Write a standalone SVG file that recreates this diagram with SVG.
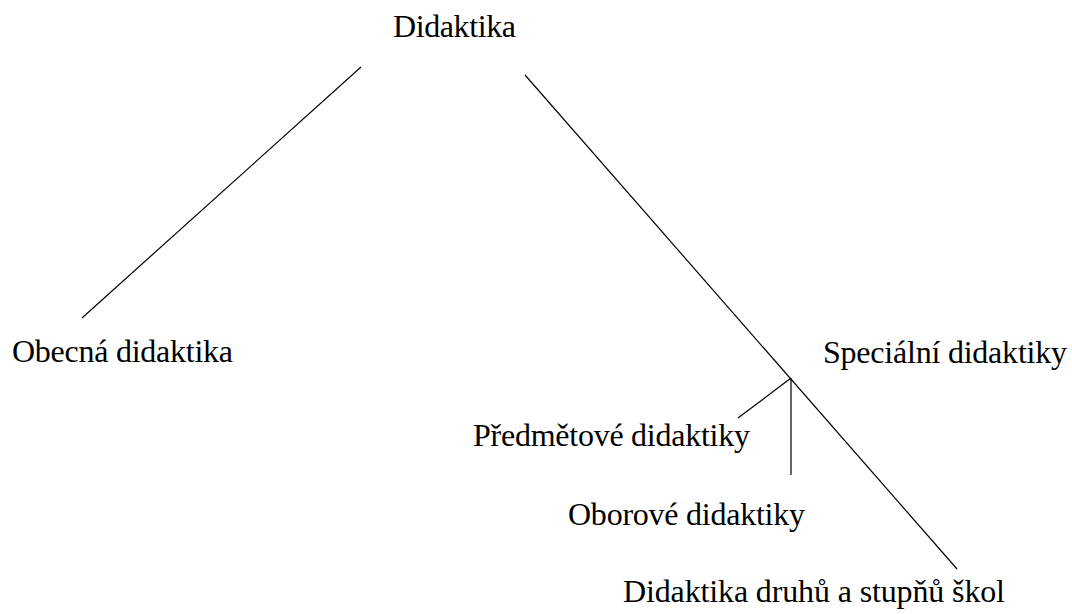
<svg xmlns="http://www.w3.org/2000/svg" width="1072" height="614" viewBox="0 0 1072 614">
<style>
.t{font-family:"Liberation Serif","Times New Roman",serif;font-size:32px;fill:#000}
.c{stroke:#000;stroke-width:1.2;fill:none}
</style>
<rect width="1072" height="614" fill="#fff"/>
<g id="connectors">
<line class="c" x1="361" y1="67" x2="82" y2="318"/>
<line class="c" x1="525" y1="75" x2="957" y2="569"/>
<line class="c" x1="791" y1="378" x2="738" y2="418"/>
<line class="c" x1="791" y1="378" x2="791" y2="475"/>
</g>
<g id="n-didaktika"><text class="t" x="393" y="37" textLength="123" lengthAdjust="spacing">Didaktika</text></g>
<g id="n-obecna"><text class="t" x="12" y="362" textLength="221" lengthAdjust="spacing">Obecná didaktika</text></g>
<g id="n-specialni"><text class="t" x="823" y="363" textLength="244" lengthAdjust="spacing">Speciální didaktiky</text></g>
<g id="n-predmetove"><text class="t" x="473" y="446" textLength="277" lengthAdjust="spacing">Předmětové didaktiky</text></g>
<g id="n-oborove"><text class="t" x="568" y="525" textLength="237" lengthAdjust="spacing">Oborové didaktiky</text></g>
<g id="n-druhu"><text class="t" x="623" y="602" textLength="382" lengthAdjust="spacing">Didaktika druhů a stupňů škol</text></g>
</svg>
